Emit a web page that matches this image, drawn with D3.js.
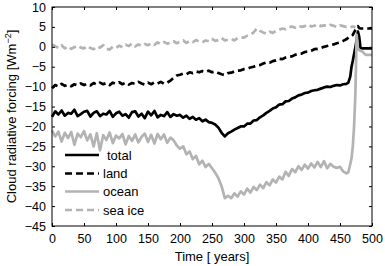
<!DOCTYPE html>
<html>
<head>
<meta charset="utf-8">
<script src="https://cdn.jsdelivr.net/npm/d3@7"></script>
<style>
  body { margin: 0; background: #fff; }
  text { font-family: "Liberation Sans", Arial, sans-serif; }
</style>
</head>
<body>
<div id="chart"></div>
<script>
// years (uneven step near the end, where the curves jump)
var years = [0,5,10,15,20,25,30,35,40,45,50,55,60,65,70,75,80,85,90,95,
  100,105,110,115,120,125,130,135,140,145,150,155,160,165,170,175,180,185,190,195,
  200,205,210,215,220,225,230,235,240,245,250,255,260,265,270,275,280,285,290,295,
  300,305,310,315,320,325,330,335,340,345,350,355,360,365,370,375,380,385,390,395,
  400,405,410,415,420,425,430,435,440,445,450,455,460,
  463,466,468,470,472,474,476,478,480,482,485,490,495,500];

var total = [-17.6,-16.2,-17.0,-16.0,-17.3,-16.6,-16.8,-15.8,-17.4,-16.9,-16.3,-16.1,-17.5,-16.6,-16.2,-17.4,-16.8,-17.0,-16.1,-17.6,
  -16.7,-16.3,-17.3,-16.9,-17.8,-16.4,-16.2,-17.5,-16.8,-17.9,-16.3,-17.2,-16.1,-17.7,-17.1,-17.4,-16.4,-17.6,-16.9,-17.3,
  -17.1,-17.8,-17.3,-18.1,-17.6,-18.3,-17.9,-18.7,-18.3,-18.9,-19.1,-19.5,-20.3,-21.6,-22.5,-21.7,-21.3,-20.8,-20.4,-20.0,
  -20.0,-19.3,-19.3,-18.5,-18.4,-17.7,-17.2,-16.6,-16.1,-15.5,-15.2,-14.5,-14.4,-13.7,-13.6,-13.0,-12.7,-12.2,-12.0,-11.6,
  -11.5,-11.1,-10.9,-10.8,-10.5,-10.2,-10.0,-10.1,-9.8,-9.6,-9.7,-9.4,-9.3,
  -9.0,-7.5,-5.0,-3.5,-1.8,-0.2,1.8,3.8,2.5,-0.3,-0.4,-0.4,-0.4,-0.4];

var land = [-10.4,-9.6,-10.0,-9.3,-9.8,-9.5,-9.9,-9.4,-9.7,-9.2,-9.6,-9.3,-9.7,-9.1,-9.5,-9.0,-9.4,-9.1,-9.6,-9.0,
  -9.3,-8.9,-9.4,-9.0,-9.5,-9.1,-9.3,-8.8,-9.2,-9.5,-9.0,-9.4,-8.9,-9.2,-8.8,-9.3,-9.0,-8.5,-7.8,-7.2,
  -7.0,-6.7,-6.9,-6.4,-6.6,-6.2,-6.4,-6.1,-6.3,-6.0,-6.4,-6.2,-6.6,-6.9,-7.1,-6.6,-6.5,-6.2,-6.0,-5.9,
  -5.6,-5.5,-5.2,-5.0,-4.7,-4.6,-4.2,-3.9,-4.0,-3.6,-3.4,-3.0,-3.1,-2.7,-2.5,-2.4,-2.0,-1.8,-1.7,-1.3,
  -1.2,-1.0,-0.6,-0.5,-0.3,0.0,0.2,0.4,0.6,0.9,1.1,1.5,1.9,
  2.3,2.7,2.9,3.0,3.6,4.3,5.0,5.2,4.7,4.6,4.6,4.6,4.6,4.6];

var ocean = [-21.0,-22.5,-21.3,-23.8,-21.6,-22.9,-21.4,-24.6,-21.8,-22.7,-21.2,-23.5,-22.0,-25.0,-21.7,-26.0,-22.2,-23.4,-21.5,-24.2,
  -22.3,-23.0,-21.9,-24.5,-22.4,-23.6,-22.0,-24.0,-22.6,-21.8,-23.9,-22.1,-24.3,-21.9,-23.2,-22.0,-24.1,-22.8,-23.5,-24.8,
  -25.6,-25.0,-27.0,-26.3,-28.2,-27.4,-29.5,-28.6,-30.2,-29.4,-30.5,-31.6,-33.0,-35.0,-38.0,-37.4,-38.0,-36.8,-37.6,-36.3,
  -37.1,-35.6,-36.6,-35.2,-36.0,-34.6,-35.5,-34.0,-34.8,-33.3,-34.1,-32.6,-33.3,-31.4,-32.4,-30.7,-31.5,-30.0,-30.9,-29.6,
  -30.6,-29.3,-30.3,-28.9,-30.2,-28.7,-30.5,-29.4,-30.1,-30.4,-30.1,-31.3,-31.8,
  -31.5,-29.5,-28.0,-25.0,-20.0,-12.0,3.0,-0.5,-0.8,-1.0,-1.2,-2.0,-2.0,-2.0];

var seaIce = [0.5,0.2,-0.3,0.4,-0.4,0.1,-0.5,-0.1,0.3,-0.2,-0.4,0.2,-0.3,-0.6,0.1,-0.2,0.4,-0.5,-0.7,0.0,
  -0.3,0.3,-0.1,0.5,0.2,0.8,0.1,0.6,0.2,0.7,0.4,0.9,0.5,1.1,0.7,1.2,0.8,1.0,1.4,0.9,
  1.3,1.6,1.0,1.5,1.2,1.7,1.3,1.1,1.6,1.4,2.0,1.5,1.7,2.2,1.6,1.8,2.0,1.6,2.2,2.4,
  2.3,2.8,3.1,3.6,4.6,4.0,3.6,3.3,3.8,3.5,4.0,4.3,4.6,4.4,4.9,5.1,4.8,5.3,5.0,5.2,
  5.6,5.1,5.3,5.7,5.2,5.4,5.1,5.5,5.3,5.0,5.4,5.2,5.0,
  5.1,4.9,5.0,5.1,5.0,4.8,null,null,null,null,null,null,null,null];

var seriesNames = ["total", "land", "ocean", "sea ice"];
var seriesColors = ["#000000", "#000000", "#b3b3b3", "#b3b3b3"];
var seriesDash = [null, "7,4", null, "7,4"];
var xTicks = [0,50,100,150,200,250,300,350,400,450,500];
var yTicks = [10,5,0,-5,-10,-15,-20,-25,-30,-35,-40,-45];

var width = 385, height = 266;
var margin = {left: 52, right: 13, top: 7, bottom: 40};

var svg = d3.select("#chart").append("svg")
    .attr("width", width)
    .attr("height", height);

svg.append("rect").attr("width", width).attr("height", height).style("fill", "#fff");

var x = d3.scaleLinear().domain([0, 500]).range([margin.left, width - margin.right]);
var y = d3.scaleLinear().domain([-45, 10]).range([height - margin.bottom, margin.top]);

var allSeries = [total, land, ocean, seaIce];

var line = d3.line()
    .defined(function(d) { return d.v !== null; })
    .x(function(d) { return x(d.t); })
    .y(function(d) { return y(d.v); });

allSeries.forEach(function(vals, i) {
  var pts = years.map(function(t, j) { return {t: t, v: vals[j]}; });
  svg.append("path")
    .datum(pts)
    .attr("d", line)
    .attr("fill", "none")
    .attr("stroke", seriesColors[i])
    .attr("stroke-width", 2.7)
    .attr("stroke-linejoin", "round")
    .attr("stroke-dasharray", seriesDash[i]);
});

// axes, matlab box style with inward ticks
function boxAxis(g) {
  g.select(".domain").remove();
  g.selectAll(".tick line").attr("stroke", "#000");
  g.selectAll(".tick text").attr("fill", "#000").style("font-size", "12.5px");
}

svg.append("g")
  .attr("transform", "translate(0," + y(-45) + ")")
  .call(d3.axisBottom(x).tickValues(xTicks).tickSizeInner(-3).tickPadding(8).tickFormat(d3.format("d")))
  .call(boxAxis);
svg.append("g")
  .attr("transform", "translate(0," + y(10) + ")")
  .call(d3.axisTop(x).tickValues(xTicks).tickSizeInner(-3).tickFormat(""))
  .call(boxAxis);
svg.append("g")
  .attr("transform", "translate(" + x(0) + ",0)")
  .call(d3.axisLeft(y).tickValues(yTicks).tickSizeInner(-3).tickPadding(6).tickFormat(d3.format("d")))
  .call(boxAxis);
svg.append("g")
  .attr("transform", "translate(" + x(500) + ",0)")
  .call(d3.axisRight(y).tickValues(yTicks).tickSizeInner(-3).tickFormat(""))
  .call(boxAxis);

svg.append("rect")
  .attr("x", x(0)).attr("y", y(10))
  .attr("width", x(500) - x(0)).attr("height", y(-45) - y(10))
  .attr("fill", "none").attr("stroke", "#000").attr("stroke-width", 1);

// labels
svg.append("text")
  .attr("x", (x(0) + x(500)) / 2).attr("y", 261)
  .attr("text-anchor", "middle")
  .style("font-size", "13px")
  .text("Time [ years]");

var ylab = svg.append("text")
  .attr("transform", "translate(16," + ((y(10) + y(-45)) / 2) + ") rotate(-90)")
  .attr("text-anchor", "middle")
  .style("font-size", "13px");
ylab.append("tspan").text("Cloud radiative forcing [Wm");
ylab.append("tspan").attr("dy", -5).style("font-size", "9px").text("\u22122");
ylab.append("tspan").attr("dy", 5).text("]");

// legend
var legY = [155, 173.5, 191.5, 210];
seriesNames.forEach(function(name, i) {
  svg.append("line")
    .attr("x1", 65).attr("x2", 99)
    .attr("y1", legY[i]).attr("y2", legY[i])
    .attr("stroke", seriesColors[i])
    .attr("stroke-width", 2.7)
    .attr("stroke-dasharray", seriesDash[i]);
  svg.append("text")
    .attr("x", i == 0 ? 107 : 103).attr("y", legY[i] + 4.5)
    .style("font-size", "13px")
    .text(name);
});
</script>
</body>
</html>
